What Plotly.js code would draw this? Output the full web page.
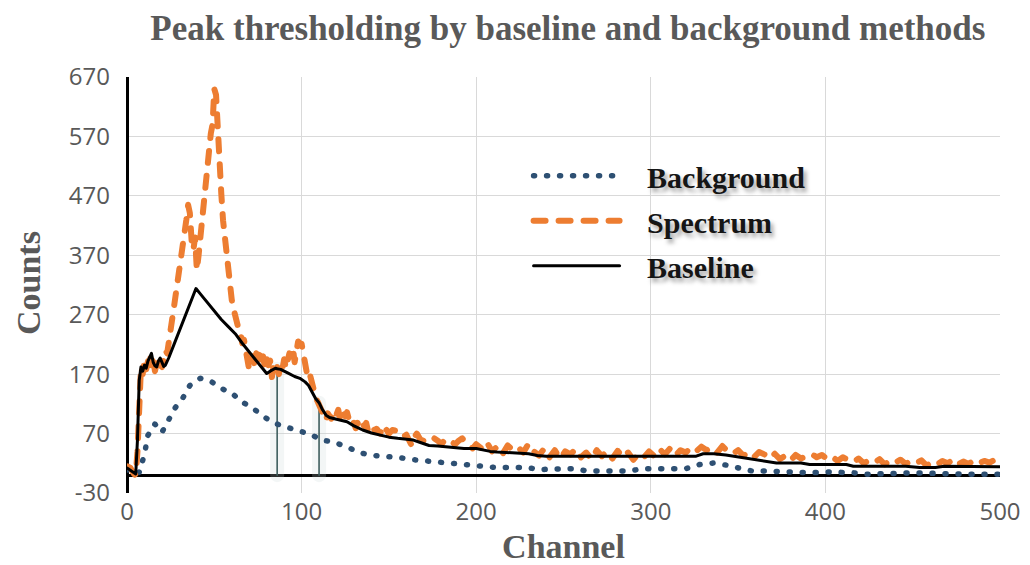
<!DOCTYPE html>
<html>
<head>
<meta charset="utf-8">
<script src="https://cdn.plot.ly/plotly-3.0.1.min.js"></script>
<style>
  html, body { margin: 0; padding: 0; background: #ffffff; }
  #chart { width: 1030px; height: 565px; }
  /* rounded ends for the dotted and dashed traces */
  .js-line { stroke-linecap: round; stroke-linejoin: round; }
</style>
</head>
<body>
<div id="chart"></div>
<script>
// Measured spectrum (counts per channel)
const spectrumChannel = [0,2,4,5,6,7,8,9,10,11,12,13,14,15,16,17,18,19,20,21,22,23,24,25,26,27,28,29,30,31,32,33,34,35,36,37,38,39,40,41,42,43,44,45,46,47,48,49,50,51,52,53,54,55,56,57,58,59,60,61,62,63,64,65,66,67,68,69,70,71,72,73,74,75,76,77,78,79,80,81,82,83,84,85,86,87,88,89,90,91,92,93,94,95,96,97,98,99,100,101,102,103,104,105,106,107,108,109,110,111,112,113,114,115,116,117,118,119,120,121,122,123,124,125,126,127,128,129,130,131,132,133,134,135,136,137,138,139,140,141,142,143,144,145,146,147,148,150,152,154,156,158,160,162,163,164,166,168,170,172,174,176,178,180,182,184,186,188,190,192,194,196,198,200,203,206,209,212,215,218,221,224,227,230,233,236,239,242,245,248,251,254,257,260,263,266,269,272,275,278,281,284,287,290,293,296,299,302,305,308,311,314,317,320,323,326,329,332,335,338,341,344,347,350,353,356,359,362,365,368,371,374,377,380,383,386,389,392,395,398,401,404,407,410,413,416,419,422,425,428,431,434,437,440,443,446,449,452,455,458,461,464,467,470,473,476,479,482,485,488,491,494,497,500];
const spectrumCounts = [15,12,2,0,40,150,182,170,195,178,200,205,185,198,175,190,200,185,182,195,210,205,230,250,265,285,306,325,350,374,380,405,430,455,441,395,379,400,345,370,401,440,468,490,513,559,575,590,650,640,570,525,474,429,400,367,340,311,295,280,266,255,245,240,222,228,205,190,177,195,200,185,205,195,205,190,200,180,195,185,193,165,185,175,182,170,185,178,195,180,190,205,200,215,190,210,225,222,221,205,190,172,178,165,150,140,132,125,118,115,110,100,92,104,100,95,105,98,102,110,95,100,108,99,106,95,90,95,85,79,88,82,90,85,82,88,75,80,84,81,74,78,72,70,78,73,79,70,76,75,70,64,68,58,50,62,70,60,58,55,56,62,58,52,59,54,56,52,58,62,55,50,45,52,45,56,40,48,35,50,42,47,38,53,40,33,45,30,42,28,40,35,44,30,38,27,42,32,40,28,41,30,38,26,36,30,40,32,44,35,45,33,42,38,46,40,48,42,47,38,49,40,36,42,33,38,30,39,35,28,36,27,33,25,34,28,33,36,30,34,27,31,24,30,26,22,28,20,25,21,27,18,25,21,26,19,24,20,25,16,22,18,24,20,26,18,23,19,25,20,24,21,26,22];

// Background estimate
const backgroundChannel = [0,4,7,10,12,16,20,23.5,27.5,32,36,42,48.5,54,60,66,72,78,85,91,97,105,111.5,118,126,133,140,148,156,164,173,180,188,195,204,211,220,229,236,246,255,264,270,278,288,295,303,312,320,328,336,343,350,358,365,374,383,392,401,408,416,424,431,441,448,456,466,473,482,490,500];
const backgroundCounts = [10,2,5,35,67,86,72,93,113,130,151,163,157,146,138,123,113,99,87,81,76,69,59,56,47.5,38,33.5,32,29.6,26,23.4,22,19.6,17,15,13,13,13,9.5,9.5,11,7,7,7,7,11,11,11,11,18,20.5,17,13,7,7,5.5,5.5,4,5.5,5.5,4,1.6,1.6,3,4,3,3,3,1.6,1.6,1.6];

// Baseline estimate
const baselineChannel = [0,2,4,5,6,7,8,9,10,11,12,13,14,15,16,17,18,19,20,21,22,24,28,32,36,39.5,42,46,50,54,58,62,66,70,74,78,80,82,85,86,88,92,96,99,102,104,106,108,110,112,114,116,120,126,130,135,140,145,150,155,160,164,168,173,178,183,188,193,200,204,208,212,223,230,235,240,250,260,270,280,290,300,310,320,326,330,336,343,351,356,361,366,372,386,391,400,412,416,430,446,454,463,468,480,490,500];
const baselineCounts = [12,8,3,2,60,160,182,175,185,180,192,200,205,190,184,182,192,197,188,183,185,198,228,258,290,314,305,290,276,262,250,238,222,207,192,178,171,175,180,179,178,172,166,163,157,151,141,129,122,110,101,97,94,90,83,76,71,67,64,62,61,59,55,50,49,48,46,45,45,42,40,39,37.5,36,33,32,32,32,32,32,32,32,32,32,32,36,36,34,30,28,25,23,20.5,20.5,18,18,18,15,15,15,13,13,15,15,15,14];

// Peak boundary channels and the baseline level where each boundary starts
const boundChannel = [86, 110];
const boundTop = [179, 122];

// Axis ticks
const xTickVals = [0, 100, 200, 300, 400, 500];
const xTickText = ['0', '100', '200', '300', '400', '500'];
const yTickVals = [-30, 70, 170, 270, 370, 470, 570, 670];
const yTickText = ['-30', '70', '170', '270', '370', '470', '570', '670'];

// Vertical boundary segments built from the arrays above
const boundX = [], boundY = [];
boundChannel.forEach((c, i) => { boundX.push(c, c, null); boundY.push(0, boundTop[i], null); });

const serif = 'Liberation Serif, Times New Roman, serif';
const sans = 'Open Sans, Liberation Sans, Arial, sans-serif';
const grey = '#595959';
const gap = '\u2002\u2005';

const traces = [
  {
    x: boundX, y: boundY, mode: 'lines', showlegend: false, hoverinfo: 'skip',
    line: { color: 'rgba(200,212,216,0.22)', width: 14 }
  },
  {
    x: boundX, y: boundY, mode: 'lines', showlegend: false, hoverinfo: 'skip',
    line: { color: '#3E5E5E', width: 1.6 }
  },
  {
    name: gap + 'Background', x: backgroundChannel, y: backgroundCounts, mode: 'lines',
    legendgroup: 'bg',
    line: { color: '#2E5073', width: 5.5, dash: '1px,12px' }
  },
  {
    name: gap + 'Spectrum', x: spectrumChannel, y: spectrumCounts, mode: 'lines',
    legendgroup: 'sp',
    line: { color: '#ED7D31', width: 6, dash: '12px,13px' }
  },
  {
    name: gap + 'Baseline', x: baselineChannel, y: baselineCounts, mode: 'lines',
    legendgroup: 'bl',
    line: { color: '#000000', width: 3 }
  }
];

const layout = {
  width: 1030, height: 565,
  paper_bgcolor: '#ffffff', plot_bgcolor: '#ffffff',
  margin: { l: 127, r: 30, t: 77, b: 72 },
  title: {
    text: 'Peak thresholding by baseline and background methods',
    font: { family: serif, size: 35, color: grey, weight: 'bold' },
    x: 0.505, xref: 'paper', xanchor: 'center',
    y: 1 - 28 / 565, yref: 'container', yanchor: 'middle'
  },
  xaxis: {
    range: [0, 500], tickmode: 'array', tickvals: xTickVals, ticktext: xTickText,
    showgrid: true, gridcolor: '#D9D9D9', gridwidth: 1,
    zeroline: true, zerolinecolor: '#000000', zerolinewidth: 3,
    showline: false, ticks: '', ticklabelstandoff: 2,
    tickfont: { family: sans, size: 24, color: grey },
    title: { text: 'Channel', font: { family: serif, size: 34, color: grey, weight: 'bold' }, standoff: 10 }
  },
  yaxis: {
    range: [-30, 670], tickmode: 'array', tickvals: yTickVals, ticktext: yTickText,
    showgrid: true, gridcolor: '#D9D9D9', gridwidth: 1,
    zeroline: true, zerolinecolor: '#000000', zerolinewidth: 3,
    showline: false, ticks: '', ticklabelstandoff: 16,
    tickfont: { family: sans, size: 24, color: grey }
  },
  annotations: [{
    text: 'Counts', textangle: -90, showarrow: false,
    xref: 'paper', x: 0, xanchor: 'center', xshift: -99,
    yref: 'paper', y: 0.5, yanchor: 'middle', yshift: 2,
    font: { family: serif, size: 34, color: grey, weight: 'bold' }
  }],
  legend: {
    x: 0.46, xanchor: 'left', y: 0.825, yanchor: 'top',
    bgcolor: 'rgba(0,0,0,0)', borderwidth: 0,
    itemwidth: 86, tracegroupgap: 3,
    font: { family: serif, size: 30, color: '#151515', weight: 'bold', shadow: '3px 4px 4px rgba(0,0,0,0.35)' }
  },
  showlegend: true,
  hovermode: false
};

Plotly.newPlot('chart', traces, layout, { staticPlot: true, displayModeBar: false });
</script>
</body>
</html>
